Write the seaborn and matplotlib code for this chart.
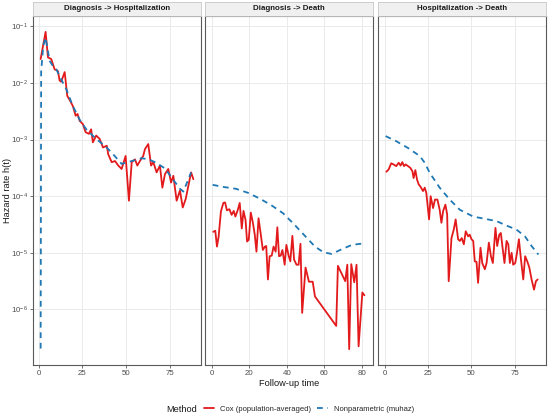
import numpy as np
import pandas as pd
import matplotlib
matplotlib.use("Agg")
import matplotlib.pyplot as plt
from matplotlib.ticker import LogLocator, LogFormatterSciNotation, NullLocator
from matplotlib.lines import Line2D
import seaborn as sns

# ---------------- data (log10 of hazard) ----------------
panels = ["Diagnosis -> Hospitalization", "Diagnosis -> Death", "Hospitalization -> Death"]
methods = ["Cox (population-averaged)", "Nonparametric (muhaz)"]

cox_dh_t = [1.0, 3.85, 5.2, 7.1, 9.0, 10.9, 11.9, 12.8, 14.8, 16.3, 18.0, 19.5, 21.1, 22.2, 23.4,
            25.3, 26.8, 28.7, 30.0, 31.0, 32.9, 34.9, 36.8, 39.0, 39.8, 41.8, 43.7, 45.6, 47.5,
            49.8, 51.7, 53.3, 55.2, 56.5, 58.0, 59.9, 60.9, 62.8, 64.4, 65.7, 67.6, 69.5, 70.9,
            72.4, 74.3, 75.9, 77.2, 79.1, 81.0, 82.6, 84.3, 87.4, 88.7]
cox_dh_log = [-1.58, -1.10, -1.55, -1.58, -1.76, -1.79, -1.96, -1.98, -1.81, -2.23, -2.32, -2.41,
              -2.58, -2.55, -2.67, -2.73, -2.87, -2.90, -2.82, -3.05, -2.93, -2.99, -3.14, -3.11,
              -3.26, -3.40, -3.38, -3.46, -3.52, -3.29, -4.08, -3.40, -3.35, -3.46, -3.38, -3.29,
              -3.17, -3.08, -3.46, -3.40, -3.58, -3.46, -3.85, -3.61, -3.52, -3.76, -3.64, -4.08,
              -3.90, -4.20, -4.05, -3.58, -3.70]

np_dh_t = [1.0, 1.3, 2.5, 3.8, 5.0, 6.1, 8.0, 10.0, 13.0, 15.7, 19.5, 23.4, 27.2, 32.9, 38.6,
           43.5, 47.5, 53.3, 59.0, 63.0, 66.7, 72.4, 76.2, 81.0, 83.0, 84.0, 87.4]
np_dh_log = [-6.69, -1.80, -1.35, -1.20, -1.40, -1.61, -1.70, -1.76, -1.95, -2.11, -2.41, -2.65,
             -2.82, -2.99, -3.13, -3.29, -3.43, -3.38, -3.33, -3.35, -3.40, -3.51, -3.67, -3.87,
             -3.92, -3.84, -3.58]

cox_dd_t = [0.9, 2.0, 2.9, 3.8, 5.0, 6.3, 7.2, 8.2, 9.5, 10.7, 11.8, 12.7, 13.9, 15.0, 16.1, 17.0,
            18.1, 18.9, 19.8, 20.9, 22.0, 23.0, 23.9, 25.0, 26.1, 27.3, 28.4, 29.1, 30.0, 30.9,
            32.0, 33.0, 34.1, 35.0, 35.9, 36.8, 37.7, 38.9, 39.8, 41.0, 41.9, 43.0, 43.9, 45.2,
            46.3, 47.3, 48.2, 50.0, 51.8, 53.8, 55.0, 66.3, 67.2, 71.1, 72.2, 73.2, 74.3, 75.9,
            77.1, 78.2, 80.2, 81.3]
cox_dd_log = [-4.63, -4.61, -4.89, -4.71, -4.27, -4.12, -4.11, -4.25, -4.23, -4.33, -4.26, -4.36,
              -4.25, -4.12, -4.57, -4.26, -4.42, -4.80, -4.77, -4.29, -4.47, -4.68, -4.98, -4.39,
              -4.65, -4.95, -4.89, -4.88, -5.47, -5.06, -5.05, -4.89, -4.98, -4.55, -5.06, -5.05,
              -4.95, -5.21, -4.86, -5.05, -5.15, -4.70, -5.12, -5.21, -5.21, -4.84, -6.06, -5.26,
              -5.51, -5.51, -5.77, -6.29, -5.23, -5.50, -5.21, -6.70, -5.20, -5.52, -5.21, -6.65,
              -5.70, -5.75]

np_dd_t = [0.6, 6.8, 13.0, 19.3, 25.5, 31.8, 38.0, 44.3, 50.5, 55.0, 59.5, 63.9, 68.4, 74.6, 81.8]
np_dd_log = [-3.80, -3.84, -3.87, -3.94, -4.04, -4.16, -4.30, -4.51, -4.73, -4.89, -4.99, -5.02,
             -4.95, -4.86, -4.83]

cox_hd_t = [1.0, 2.3, 3.8, 5.2, 6.7, 8.1, 9.2, 10.2, 11.2, 12.1, 13.5, 14.8, 16.0, 16.7, 17.7,
            18.7, 19.6, 20.8, 22.1, 23.1, 24.0, 25.6, 26.5, 27.9, 29.0, 30.4, 31.7, 32.7, 33.7,
            35.0, 36.0, 36.9, 38.5, 39.8, 40.9, 42.3, 43.3, 44.4, 45.6, 46.7, 48.1, 49.0, 50.0,
            51.0, 51.9, 52.9, 53.8, 55.2, 56.2, 57.7, 58.7, 60.0, 61.2, 62.3, 63.8, 64.8, 66.0,
            66.9, 67.9, 69.0, 70.2, 71.2, 72.1, 73.1, 74.0, 75.2, 76.2, 77.3, 78.5, 79.8, 80.9,
            82.1, 83.3, 84.6, 86.0, 87.1, 88.1]
cox_hd_log = [-3.57, -3.53, -3.42, -3.44, -3.47, -3.41, -3.46, -3.40, -3.47, -3.44, -3.47, -3.50,
              -3.56, -3.68, -3.54, -3.71, -3.79, -3.84, -3.91, -3.85, -3.94, -4.41, -4.00, -4.21,
              -4.06, -4.06, -4.24, -4.47, -4.26, -4.15, -4.32, -5.50, -4.74, -4.59, -4.41, -4.76,
              -4.79, -4.74, -4.85, -4.62, -4.71, -4.68, -4.76, -4.79, -5.15, -5.16, -5.53, -4.91,
              -5.18, -5.29, -5.18, -4.82, -5.06, -5.18, -4.56, -4.88, -4.68, -4.65, -4.91, -5.18,
              -4.79, -4.85, -5.18, -5.00, -5.21, -5.18, -5.00, -4.76, -5.12, -5.47, -5.06, -5.15,
              -5.26, -5.47, -5.65, -5.50, -5.47]

np_hd_t = [0.6, 6.7, 13.5, 20.2, 23.1, 26.0, 31.7, 37.5, 43.3, 51.0, 57.7, 64.4, 70.2, 75.9,
           80.8, 84.6, 88.5]
np_hd_log = [-2.94, -3.03, -3.15, -3.29, -3.41, -3.59, -3.85, -4.06, -4.24, -4.36, -4.40, -4.44,
             -4.52, -4.59, -4.71, -4.88, -5.03]

x_breaks = [[0, 25, 50, 75], [0, 20, 40, 60, 80], [0, 25, 50, 75]]

# ---------------- assemble ----------------
rows = []
series = [
    (panels[0], methods[0], cox_dh_t, cox_dh_log), (panels[0], methods[1], np_dh_t, np_dh_log),
    (panels[1], methods[0], cox_dd_t, cox_dd_log), (panels[1], methods[1], np_dd_t, np_dd_log),
    (panels[2], methods[0], cox_hd_t, cox_hd_log), (panels[2], methods[1], np_hd_t, np_hd_log),
]
for p, m, t, lg in series:
    for ti, li in zip(t, lg):
        rows.append({"panel": p, "Method": m, "time": ti, "hazard": 10.0 ** li})
df = pd.DataFrame(rows)

palette = {methods[0]: "#E31A1C", methods[1]: "#1F78B4"}
dashes = {methods[0]: "", methods[1]: (3.2, 2.6)}

sns.set_theme(style="white")
plt.rcParams["font.family"] = ["Liberation Sans", "DejaVu Sans"]
plt.rcParams["mathtext.default"] = "regular"

W, H = 550, 417
fig = plt.figure(figsize=(W / 100, H / 100), dpi=100)

lefts = [33, 205, 378]
pw = 168
top_px, bot_px = 16, 365
strip_h = 14

# shared y limits with ggplot-like 5% expansion in log space
lmin, lmax = np.log10(df["hazard"].min()), np.log10(df["hazard"].max())
ex = 0.05 * (lmax - lmin)
ylim = (10 ** (lmin - ex), 10 ** (lmax + ex))

border_col = "#5a5a5a"
for i, p in enumerate(panels):
    l = lefts[i] / W
    b = 1 - bot_px / H
    h = (bot_px - top_px) / H
    ax = fig.add_axes([l, b, pw / W, h])
    sub = df[df["panel"] == p]
    sns.lineplot(data=sub, x="time", y="hazard", hue="Method", style="Method",
                 palette=palette, dashes=dashes, hue_order=methods, style_order=methods,
                 estimator=None, sort=False, linewidth=1.3, legend=False, ax=ax)
    ax.set_yscale("log")
    ax.set_ylim(*ylim)
    tmin, tmax = sub["time"].min(), sub["time"].max()
    xe = 0.05 * (tmax - tmin)
    ax.set_xlim(tmin - xe, tmax + xe)
    ax.set_xticks(x_breaks[i])
    ax.yaxis.set_major_locator(LogLocator(base=10, numticks=20))
    ax.yaxis.set_minor_locator(NullLocator())
    ax.yaxis.set_major_formatter(LogFormatterSciNotation())
    ax.grid(True, which="major", color="#EBEBEB", linewidth=0.7)
    ax.set_axisbelow(True)
    for s in ax.spines.values():
        s.set_color(border_col)
        s.set_linewidth(0.8)
    ax.tick_params(axis="both", which="major", length=2.2, width=0.6, color="#5a5a5a",
                   labelsize=5.7, labelcolor="#4D4D4D", pad=1.5, direction="out",
                   bottom=True, left=(i == 0))
    if i != 0:
        ax.tick_params(axis="y", labelleft=False)
    ax.set_xlabel(None)
    ax.set_ylabel(None)
    # strip
    sax = fig.add_axes([l, 1 - top_px / H, pw / W, strip_h / H])
    sax.set_facecolor("#F0F0F0")
    sax.set_xticks([])
    sax.set_yticks([])
    for s in sax.spines.values():
        s.set_color("#C8C8C8")
        s.set_linewidth(0.6)
    sax.text(0.5, 0.5, p, ha="center", va="center", fontsize=5.7, fontweight="bold",
             color="#1A1A1A", transform=sax.transAxes)

fig.text((33 + 546) / 2 / W, 1 - 383 / H, "Follow-up time", ha="center", va="center",
         fontsize=6.7, color="#1A1A1A")
fig.text(8 / W, 1 - 190 / H, "Hazard rate h(t)", ha="center", va="center", rotation=90,
         fontsize=6.7, color="#1A1A1A")

handles = [Line2D([], [], color=palette[methods[0]], lw=1.3),
           Line2D([], [], color=palette[methods[1]], lw=1.3, dashes=dashes[methods[1]])]
fig.text(166 / W, 1 - 409 / H, "Method", ha="left", va="center", fontsize=6.7, color="#1A1A1A")
fig.legend(handles, methods, loc="center", bbox_to_anchor=(309 / W, 1 - 409 / H), ncol=2,
           frameon=False, fontsize=5.5, handlelength=1.35, handletextpad=0.8,
           columnspacing=0.8, borderpad=0, borderaxespad=0)

fig.savefig("out.png", dpi=100)
